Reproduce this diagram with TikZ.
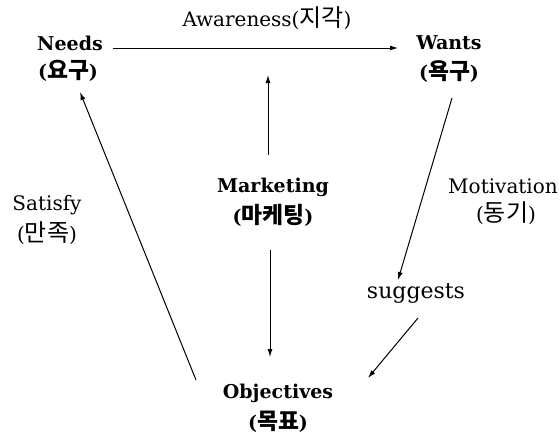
\documentclass[tikz,border=0pt]{standalone}
\usepackage{fontspec}
\setmainfont{DejaVu Serif}
\newfontfamily\kr[Scale=1.2]{Noto Sans CJK KR}
\usetikzlibrary{arrows.meta}

\begin{document}
\begin{tikzpicture}[x=1pt,y=-1pt,
  term/.style={font=\bfseries\fontsize{19}{22}\selectfont,inner sep=0pt},
  lab/.style={font=\fontsize{20}{24}\selectfont,inner sep=0pt},
  ar/.style={-{Latex[length=8pt,width=5pt]},line width=1pt}]
\useasboundingbox (0,0) rectangle (559,437);

\node[term] (needs) at (70,43) {Needs};
\node[term] (needsk) at (68,71) {({\kr 요구})};
\node[term] (wants) at (449,43) {Wants};
\node[term] (wantsk) at (449,72) {({\kr 욕구})};
\node[term] (mkt) at (273,187) {Marketing};
\node[term] (mktk) at (273,215) {({\kr 마케팅})};
\node[term] (obj) at (278,393) {Objectives};
\node[term] (objk) at (278,422) {({\kr 목표})};

\node[lab] (aware) at (267,18) {Awareness({\kr 지각})};
\node[lab] (sat) at (47,205) {Satisfy};
\node[lab] (satk) at (47,233) {({\kr 만족})};
\node[lab] (mot) at (503,186) {Motivation};
\node[lab] (motk) at (506,213) {({\kr 동기})};
\node[lab,font=\fontsize{22}{24}\selectfont] (sug) at (416,293) {suggests};

% free ends
\coordinate (upA) at (268,155);
\coordinate (upB) at (268,75);
\coordinate (dnA) at (270,250);
\coordinate (dnB) at (270,357);
\coordinate (objA) at (196,380);
\coordinate (objB) at (368,378);

\draw[ar] (needs.east |- 0,48) ++(10,0) -- (398,48);
\draw[ar] (upA) -- (upB);
\draw[ar] (dnA) -- (dnB);
\draw[ar] (452,98) -- (398,280);
\draw[ar] (418,318) -- (objB);
\draw[ar] (objA) -- (80,92);
\end{tikzpicture}
\end{document}
